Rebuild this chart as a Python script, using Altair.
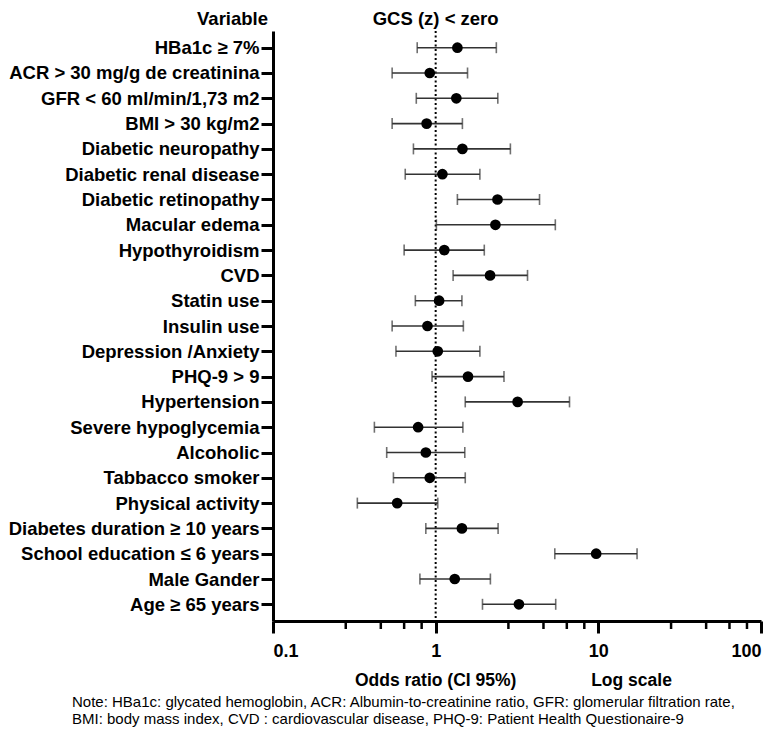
import altair as alt
import pandas as pd

variables = [
    "HBa1c ≥ 7%", "ACR > 30 mg/g de creatinina", "GFR < 60 ml/min/1,73 m2",
    "BMI > 30 kg/m2", "Diabetic neuropathy", "Diabetic renal disease",
    "Diabetic retinopathy", "Macular edema", "Hypothyroidism", "CVD",
    "Statin use", "Insulin use", "Depression /Anxiety", "PHQ-9 > 9",
    "Hypertension", "Severe hypoglycemia", "Alcoholic", "Tabbacco smoker",
    "Physical activity", "Diabetes duration ≥ 10 years",
    "School education ≤ 6 years", "Male Gander", "Age ≥ 65 years",
]
odds_ratio = [1.36, 0.92, 1.34, 0.88, 1.46, 1.10, 2.40, 2.33, 1.13, 2.16,
              1.05, 0.89, 1.03, 1.58, 3.19, 0.78, 0.87, 0.92, 0.58, 1.45,
              9.7, 1.31, 3.25]
ci_lower = [0.77, 0.54, 0.76, 0.54, 0.73, 0.65, 1.36, 1.01, 0.64, 1.28,
            0.75, 0.54, 0.57, 0.95, 1.52, 0.42, 0.50, 0.55, 0.33, 0.87,
            5.4, 0.80, 1.94]
ci_upper = [2.36, 1.57, 2.41, 1.46, 2.88, 1.87, 4.35, 5.44, 1.99, 3.67,
            1.45, 1.48, 1.87, 2.63, 6.65, 1.47, 1.51, 1.52, 1.03, 2.42,
            17.3, 2.17, 5.47]
major_ticks = [0.1, 1, 10, 100]
minor_ticks = [0.28, 0.46, 0.64, 0.82, 2.8, 4.6, 6.4, 8.2, 28, 46, 64, 82]
note_lines = [
    "Note: HBa1c: glycated hemoglobin, ACR: Albumin-to-creatinine ratio, GFR: glomerular filtration rate,",
    "BMI: body mass index, CVD : cardiovascular disease, PHQ-9: Patient Health Questionaire-9",
]

W, H = 488, 590
FONT = "Liberation Sans"

df = pd.DataFrame({"variable": variables, "or": odds_ratio,
                   "lo": ci_lower, "hi": ci_upper})

xscale = alt.Scale(type="log", domain=[0.1, 100], nice=False)
yenc = alt.Y("variable:N", sort=variables,
             scale=alt.Scale(type="point", padding=0.66),
             axis=alt.Axis(title=None, domainWidth=3, domainColor="black",
                           tickWidth=3, tickSize=12, tickColor="black",
                           labelFont=FONT, labelFontWeight="bold",
                           labelFontSize=18.5, labelColor="black",
                           labelPadding=2, labelLimit=400))
xaxis = alt.Axis(title=None, values=major_ticks, format="~g", grid=False,
                 domainWidth=3, domainColor="black", tickWidth=3,
                 tickSize=12, tickColor="black", labelFont=FONT,
                 labelFontWeight="bold", labelFontSize=18,
                 labelColor="black", labelPadding=9)

base = alt.Chart(df)

ref = alt.Chart(pd.DataFrame({"v": [1]})).mark_rule(
    color="black", strokeWidth=2, strokeDash=[2, 2.5]
).encode(x=alt.X("v:Q", scale=xscale, axis=xaxis),
         y=alt.value(0), y2=alt.value(H))

bars = base.mark_rule(color="#333333", strokeWidth=1.6).encode(
    x=alt.X("lo:Q", scale=xscale, axis=xaxis), x2="hi:Q", y=yenc)
cap_lo = base.mark_tick(color="#333333", thickness=1.6, size=11).encode(
    x=alt.X("lo:Q", scale=xscale), y=yenc)
cap_hi = base.mark_tick(color="#333333", thickness=1.6, size=11).encode(
    x=alt.X("hi:Q", scale=xscale), y=yenc)
pts = base.mark_circle(color="black", size=115, opacity=1).encode(
    x=alt.X("or:Q", scale=xscale), y=yenc)

minor = alt.Chart(pd.DataFrame({"m": minor_ticks})).mark_rule(
    color="black", strokeWidth=2.5
).encode(x=alt.X("m:Q", scale=xscale), y=alt.value(H), y2=alt.value(H + 8))

hdr_var = alt.Chart(pd.DataFrame({"t": ["Variable"]})).mark_text(
    font=FONT, fontWeight="bold", fontSize=18.5, align="right",
    baseline="middle", color="black"
).encode(text="t:N", x=alt.value(-5), y=alt.value(-12))

hdr_gcs = alt.Chart(pd.DataFrame({"t": ["GCS (z) < zero"], "v": [1]})).mark_text(
    font=FONT, fontWeight="bold", fontSize=18.5, align="center",
    baseline="middle", color="black"
).encode(text="t:N", x=alt.X("v:Q", scale=xscale), y=alt.value(-12))

xtitle = alt.Chart(pd.DataFrame({"t": ["Odds ratio (CI 95%)", "Log scale"],
                                 "v": [1, 16]})).mark_text(
    font=FONT, fontWeight="bold", fontSize=17.5, align="center",
    baseline="middle", color="black"
).encode(text="t:N", x=alt.X("v:Q", scale=xscale), y=alt.value(H + 60))

note = alt.Chart(pd.DataFrame({"t": ["\n".join(note_lines)]})).mark_text(
    font="Liberation Sans", fontSize=15, align="left",
    baseline="top", color="black", lineBreak="\n", lineHeight=17
).encode(text="t:N", x=alt.value(-201), y=alt.value(H + 74))

chart = alt.layer(ref, minor, bars, cap_lo, cap_hi, pts, hdr_var, hdr_gcs,
                  xtitle, note).properties(
    width=W, height=H,
    padding={"left": 0, "right": 0, "top": 2, "bottom": 0},
    background="white",
).configure_view(strokeWidth=0)

chart.save("out.html", embed_options={"renderer": "svg", "actions": False})
